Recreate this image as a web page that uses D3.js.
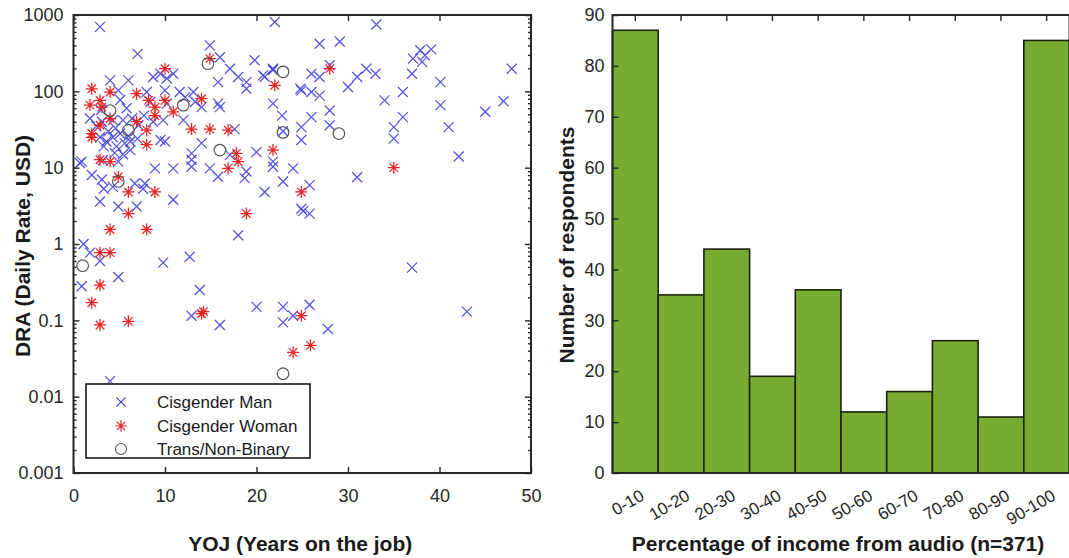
<!DOCTYPE html>
<html>
<head>
<meta charset="utf-8">
<script src="https://cdn.jsdelivr.net/npm/d3@7"></script>
<style>
  html, body { margin: 0; padding: 0; background: #fff; }
  svg { display: block; font-family: "Liberation Sans", Arial, Helvetica, sans-serif; }
</style>
</head>
<body>
<svg id="chart" width="1069" height="558"></svg>
<script>
// ---------------- DATA ----------------
// Left panel: [YOJ (years), DRA (USD/day)]
const cisMan = [
  [2.9,700],[7,310],[14.9,400],[22,810],[16,280],[19.8,255],[17.1,198],[18,154],[18.9,132],[18.9,108],
  [15.8,132],[15.8,69],[16,62],[20.7,162],[21.8,198],[21.8,69],[22.8,48],[24.9,103],[4,139],[6,139],
  [4.9,103],[8.7,154],[9.5,170],[10.2,147],[10.9,170],[8,98],[10,103],[11.6,98],[13.1,98],[12.2,84],
  [13.3,73],[14,62],[8.4,73],[10.2,69],[1.8,44],[3.1,40],[4.3,42],[5.4,42],[6.4,44],[7.1,36],
  [8.7,40],[9.8,42],[12,42],[17.6,32],[22.9,30],
  [2.9,25],[3.6,22],[4.3,25],[5.1,28],[3.3,19],[4.7,19],[5.6,21],[6.2,17],[5.4,15],[4.5,15.6],
  [6.2,22],[9.5,23],[10,22],[0.9,12],[2,8],[3.1,7],[3.3,5.3],[4.3,5.6],[6.7,6.2],[7.8,6.2],
  [7.6,5.3],[4.9,12],[2.9,3.6],[4.9,3.1],[6.9,3.1],[8.9,9.8],[10.9,9.8],[10.9,3.8],[12.9,15.4],[12.9,12.7],
  [12.9,10.3],[14,21],[14.9,9.8],[15.8,7.6],[17.1,14.7],[20,16],[18.9,8.9],[18.7,7.3],[21.8,12],[21.8,10.3],
  [22.9,6.6],[24,9.8],[20.9,4.8],[25.1,2.7],[18,1.3],[1.1,1.0],[1.8,0.77],
  [3.0,57],[5.1,77],[5.8,60],[7.7,48],[2.5,35],[3.8,30],[4.6,33],[6.0,26],[7.0,24],[3.2,12.5],
  [33.1,750],[26.9,420],[29.1,450],[37.1,268],[37.9,345],[38.4,296],[39.1,355],[38.1,243],[47.9,198],[28,220],
  [26,170],[26.9,154],[24.8,108],[26,98],[26.9,88],[30,114],[31,154],[32,198],[33,170],[37,170],
  [40.1,132],[36,98],[34,76],[40.1,66],[45,54],[47,74],[28,56],[28,36],[26,46],[24.9,34],
  [36,46],[35,34],[35,24],[41,34],[24.9,23],[42.1,14],[31,7.5],[25.8,5.9],[25.8,2.5],[24.9,2.9],
  [21.8,190],[20.9,155],
  [0.9,0.28],[2.9,0.6],[4.9,0.37],[9.8,0.57],[12.7,0.68],[13.8,0.25],[12.9,0.115],[16,0.087],[20,0.15],[4,0.016],
  [37,0.49],[43,0.13],[22.9,0.15],[24,0.115],[22.9,0.094],[25.8,0.16],[27.8,0.077],[0.7,11.5]
];
const cisWoman = [
  [14.9,268],[10,198],[22,120],[2,108],[4,98],[6.9,93],[8.2,76],[10,76],[14,80],[2.9,76],
  [1.8,66],[3.1,62],[8.9,62],[4,44],[8.9,48],[10.9,54],[2.9,36],[6.9,40],[8,31],[12.9,32],
  [14.9,32],[16.9,31],[2,28],[2,25],[8,20],[2.9,12.7],[4,12],[4.9,7.6],[6,4.8],[8.9,4.8],
  [6,2.5],[4,1.55],[8,1.55],[17.8,15.4],[18,12],[16.9,9.8],[21.8,17],[24.9,4.8],[18.9,2.5],[2.9,0.77],
  [4,0.77],[28,198],[35,10],[2.9,0.29],[2,0.17],[2.9,0.087],[6,0.097],[14,0.122],[14.2,0.13],[24.9,0.115],
  [24,0.038],[25.9,0.047]
];
const transNB = [
  [14.7,230],[22.9,180],[4,56],[12,66],[6,31],[22.9,29],[16,17],[29,28],[4.9,6.6],[1,0.52],[22.9,0.02]
];
const xTicksLeft = [0,10,20,30,40,50];
const yTicksLeft = [0.001,0.01,0.1,1,10,100,1000];
const yTickLabelsLeft = ["0.001","0.01","0.1","1","10","100","1000"];
const legendLabels = ["Cisgender Man","Cisgender Woman","Trans/Non-Binary"];

// Right panel: histogram
const incomeBins = ["0-10","10-20","20-30","30-40","40-50","50-60","60-70","70-80","80-90","90-100"];
const respondents = [87,35,44,19,36,12,16,26,11,85];
const yTicksRight = [0,10,20,30,40,50,60,70,80,90];

// ---------------- DRAW ----------------
const svg = d3.select("#chart");
const axisColor = "#262626";
const tickFont = 18;

// ===== Left panel =====
const L = {left: 73.5, right: 531, top: 15, bottom: 473};
const x = d3.scaleLinear().domain([0,50]).range([L.left, L.right]);
const y = d3.scaleLog().domain([0.001,1000]).range([L.bottom, L.top]);

const gL = svg.append("g");

// markers
const crossPath = s => `M${-s},${-s}L${s},${s}M${-s},${s}L${s},${-s}`;
const starPath = (r) => { const a = r*0.707; return `M0,${-r}V${r}M${-r},0H${r}M${-a},${-a}L${a},${a}M${-a},${a}L${a},${-a}`; };
const manColor = "#4040dc", womanColor = "#ea2424";

gL.append("g").selectAll("path").data(cisMan).join("path")
  .attr("transform", d => `translate(${x(d[0])},${y(d[1])})`)
  .attr("d", crossPath(5))
  .attr("fill","none").attr("stroke",manColor).attr("stroke-width",1.25).attr("stroke-opacity",0.9);

gL.append("g").selectAll("path").data(cisWoman).join("path")
  .attr("transform", d => `translate(${x(d[0])},${y(d[1])})`)
  .attr("d", starPath(6))
  .attr("fill","none").attr("stroke",womanColor).attr("stroke-width",1.25);

gL.append("g").selectAll("circle").data(transNB).join("circle")
  .attr("cx", d => x(d[0])).attr("cy", d => y(d[1])).attr("r", 5.8)
  .attr("fill","none").attr("stroke","#555").attr("stroke-width",1.2);

// axes
function styleAxis(g){
  g.select(".domain").remove();
  g.selectAll(".tick line").attr("stroke", axisColor).attr("stroke-width",1.4);
  g.selectAll(".tick text").attr("fill", axisColor).attr("font-size", tickFont)
    .attr("font-family", "'Liberation Sans', Arial, sans-serif");
}
gL.append("g").attr("transform",`translate(0,${L.bottom})`)
  .call(d3.axisBottom(x).tickValues(xTicksLeft).tickSize(-6).tickPadding(16).tickFormat(d3.format("d")))
  .call(styleAxis);
gL.append("g").attr("transform",`translate(0,${L.top})`)
  .call(d3.axisTop(x).tickValues(xTicksLeft).tickSize(-6).tickFormat(""))
  .call(styleAxis);

const minors = [];
for (let e = -3; e < 3; e++) for (let m = 2; m <= 9; m++) minors.push(m * Math.pow(10, e));
gL.append("g").attr("transform",`translate(${L.left},0)`)
  .call(d3.axisLeft(y).tickValues(yTicksLeft).tickSize(-6).tickPadding(10)
    .tickFormat((d,i) => yTickLabelsLeft[i]))
  .call(styleAxis);
gL.append("g").attr("transform",`translate(${L.left},0)`)
  .call(d3.axisLeft(y).tickValues(minors).tickSize(-3).tickFormat(""))
  .call(styleAxis);
gL.append("g").attr("transform",`translate(${L.right},0)`)
  .call(d3.axisRight(y).tickValues(yTicksLeft).tickSize(-6).tickFormat(""))
  .call(styleAxis);
gL.append("g").attr("transform",`translate(${L.right},0)`)
  .call(d3.axisRight(y).tickValues(minors).tickSize(-3).tickFormat(""))
  .call(styleAxis);

gL.append("rect").attr("x",L.left).attr("y",L.top)
  .attr("width",L.right-L.left).attr("height",L.bottom-L.top)
  .attr("fill","none").attr("stroke",axisColor).attr("stroke-width",2);

// legend
const lg = gL.append("g");
lg.append("rect").attr("x",86).attr("y",384).attr("width",224).attr("height",74)
  .attr("fill","#fff").attr("stroke","#1a1a1a").attr("stroke-width",1.6);
const rowsY = [402, 426, 449];
lg.append("path").attr("transform",`translate(121,${rowsY[0]})`).attr("d",crossPath(4.6))
  .attr("fill","none").attr("stroke",manColor).attr("stroke-width",1.2);
lg.append("path").attr("transform",`translate(121,${rowsY[1]})`).attr("d",starPath(5.8))
  .attr("fill","none").attr("stroke",womanColor).attr("stroke-width",1.2);
lg.append("circle").attr("cx",121).attr("cy",rowsY[2]).attr("r",5.5)
  .attr("fill","none").attr("stroke","#555").attr("stroke-width",1.1);
lg.selectAll("text").data(legendLabels).join("text")
  .attr("x",157).attr("y",(d,i)=>rowsY[i]).attr("dy","0.35em")
  .attr("font-size",17).attr("fill","#1a1a1a").text(d=>d);

// titles
gL.append("text").attr("x", (L.left+L.right)/2 - 2).attr("y", 551)
  .attr("text-anchor","middle").attr("font-size",21).attr("font-weight","bold").attr("fill","#1a1a1a")
  .text("YOJ (Years on the job)");
gL.append("text").attr("transform","translate(30,246) rotate(-90)")
  .attr("text-anchor","middle").attr("font-size",21).attr("font-weight","bold").attr("fill","#1a1a1a")
  .text("DRA (Daily Rate, USD)");

// ===== Right panel =====
const R = {left: 612.5, right: 1069.5, top: 15, bottom: 473};
const xb = d3.scaleBand().domain(incomeBins).range([R.left, R.right]).padding(0);
const yb = d3.scaleLinear().domain([0,90]).range([R.bottom, R.top]);
const gR = svg.append("g");

gR.append("g").selectAll("rect").data(respondents).join("rect")
  .attr("x",(d,i)=>xb(incomeBins[i])).attr("y",d=>yb(d))
  .attr("width",xb.bandwidth()).attr("height",d=>yb(0)-yb(d))
  .attr("fill","#77AC30").attr("stroke","#1c2410").attr("stroke-width",1.6);

gR.append("g").attr("transform",`translate(${R.left},0)`)
  .call(d3.axisLeft(yb).tickValues(yTicksRight).tickSize(-6).tickPadding(8))
  .call(styleAxis);
gR.append("g").attr("transform",`translate(0,${R.top})`)
  .call(d3.axisTop(xb).tickSize(-6).tickFormat(""))
  .call(styleAxis);
const bx = gR.append("g").attr("transform",`translate(0,${R.bottom})`)
  .call(d3.axisBottom(xb).tickSize(0).tickPadding(0))
  .call(styleAxis);
bx.selectAll(".tick text")
  .attr("font-size",17)
  .attr("text-anchor","end").attr("dy",null).attr("y",0)
  .attr("transform","translate(10,26) rotate(-30)");

gR.append("path")
  .attr("d",`M${R.left},${R.bottom}V${R.top}H${R.right}V${R.bottom}Z`)
  .attr("fill","none").attr("stroke",axisColor).attr("stroke-width",2);

gR.append("text").attr("x", 838).attr("y", 551)
  .attr("text-anchor","middle").attr("font-size",21).attr("font-weight","bold").attr("fill","#1a1a1a")
  .text("Percentage of income from audio (n=371)");
gR.append("text").attr("transform","translate(574,245) rotate(-90)")
  .attr("text-anchor","middle").attr("font-size",21).attr("font-weight","bold").attr("fill","#1a1a1a")
  .text("Number of respondents");
</script>
</body>
</html>
